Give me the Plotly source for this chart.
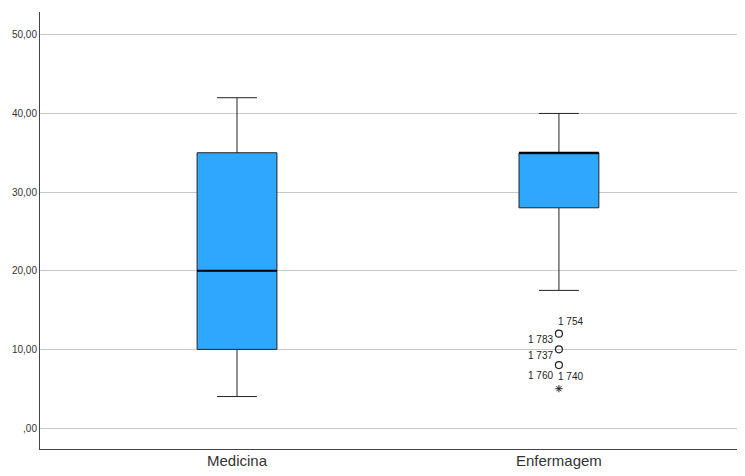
import plotly.graph_objects as go

categories = ["Medicina", "Enfermagem"]
lower_whisker = [4.0, 17.5]
q1 = [10.0, 28.0]
median = [20.0, 35.0]
q3 = [35.0, 35.0]
upper_whisker = [42.0, 40.0]

# outliers for Enfermagem
outlier_circle_y = [12.0, 10.0, 8.0]
outlier_star_y = [5.0]
outlier_labels = [
    ("1 754", 12.0, "right_up"),
    ("1 783", 12.0, "left"),
    ("1 737", 10.0, "left"),
    ("1 760", 8.0, "left_down"),
    ("1 740", 8.0, "right_down"),
]

yticks = [0, 10, 20, 30, 40, 50]
yticktext = [",00", "10,00", "20,00", "30,00", "40,00", "50,00"]

xpos = list(range(len(categories)))
box_w = 0.248
fill = "#2EA8FF"

fig = go.Figure()
for i, c in enumerate(categories):
    fig.add_trace(go.Box(
        x=[xpos[i]], q1=[q1[i]], median=[median[i]], q3=[q3[i]],
        lowerfence=[lower_whisker[i]], upperfence=[upper_whisker[i]],
        width=box_w, whiskerwidth=0.5, fillcolor=fill,
        line=dict(color="#222222", width=1), boxpoints=False,
        showlegend=False, name=c, hoverinfo="skip",
    ))
    fig.add_shape(type="line", xref="x", yref="y",
                  x0=xpos[i] - box_w / 2, x1=xpos[i] + box_w / 2,
                  y0=median[i], y1=median[i],
                  line=dict(color="#000000", width=2))

fig.add_trace(go.Scatter(
    x=[xpos[1]] * len(outlier_circle_y), y=outlier_circle_y, mode="markers",
    marker=dict(symbol="circle-open", size=7, color="#222222", line=dict(width=1.2)),
    showlegend=False, hoverinfo="skip"))
fig.add_trace(go.Scatter(
    x=[xpos[1]] * len(outlier_star_y), y=outlier_star_y, mode="markers",
    marker=dict(symbol="asterisk-open", size=6, color="#222222", line=dict(width=1, color="#222222")),
    showlegend=False, hoverinfo="skip"))

for txt, yv, pos in outlier_labels:
    dx_px = {"right_up": -3, "left": -4, "left_down": -4, "right_down": -3}[pos]
    dy_px = {"right_up": 12, "left": -6, "left_down": -10, "right_down": -11}[pos]
    anchor = "right" if pos in ("left", "left_down") else "left"
    fig.add_annotation(x=xpos[1], y=yv, text=txt, showarrow=False,
                       xanchor=anchor, yanchor="middle",
                       xshift=dx_px, yshift=dy_px,
                       font=dict(size=10, color="#222222", family="Liberation Sans"))

fig.update_layout(
    width=737, height=468,
    margin=dict(l=32, r=0, t=4, b=27),
    paper_bgcolor="white", plot_bgcolor="white",
    font=dict(family="Liberation Sans", color="#222222"),
    xaxis=dict(range=[-0.612, 1.578], tickvals=xpos, ticktext=categories,
               showgrid=False, zeroline=False, showline=True,
               linecolor="#444444", linewidth=1, ticks="", automargin=False,
               ticklabelstandoff=-2,
               tickfont=dict(size=15, color="#333333")),
    yaxis=dict(range=[-2.67, 52.9], tickvals=yticks, ticktext=yticktext,
               showgrid=True, gridcolor="#c8c8c8", gridwidth=1,
               zeroline=False, showline=True, linecolor="#444444", linewidth=1,
               ticks="", automargin=False,
               tickfont=dict(size=10, color="#333333")),
)

fig.write_html("out.html")
